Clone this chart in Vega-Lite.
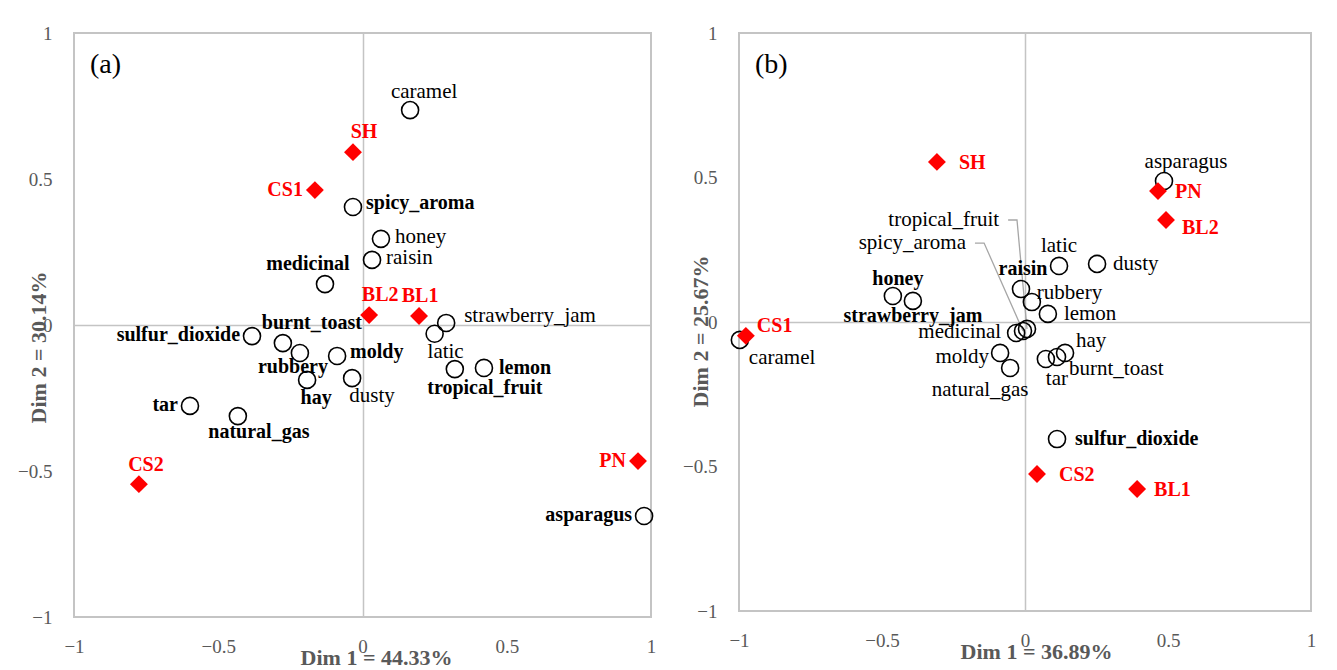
{
  "$schema": "https://vega.github.io/schema/vega-lite/v6.json",
  "background": "white",
  "padding": {"left": 16, "top": 23, "right": 0, "bottom": 0},
  "spacing": 24,
  "datasets": {
    "a": [
      {"name": "caramel", "kind": "attribute", "x": 0.165, "y": 0.736},
      {"name": "spicy_aroma", "kind": "attribute", "x": -0.033, "y": 0.404},
      {"name": "honey", "kind": "attribute", "x": 0.064, "y": 0.295},
      {"name": "raisin", "kind": "attribute", "x": 0.033, "y": 0.223},
      {"name": "medicinal", "kind": "attribute", "x": -0.13, "y": 0.14},
      {"name": "strawberry_jam", "kind": "attribute", "x": 0.29, "y": 0.007},
      {"name": "latic", "kind": "attribute", "x": 0.25, "y": -0.03},
      {"name": "sulfur_dioxide", "kind": "attribute", "x": -0.383, "y": -0.038},
      {"name": "burnt_toast", "kind": "attribute", "x": -0.276, "y": -0.062},
      {"name": "rubbery", "kind": "attribute", "x": -0.217, "y": -0.096},
      {"name": "moldy", "kind": "attribute", "x": -0.088, "y": -0.106},
      {"name": "hay", "kind": "attribute", "x": -0.192, "y": -0.188},
      {"name": "dusty", "kind": "attribute", "x": -0.036, "y": -0.182},
      {"name": "tropical_fruit", "kind": "attribute", "x": 0.32, "y": -0.151},
      {"name": "lemon", "kind": "attribute", "x": 0.421, "y": -0.147},
      {"name": "tar", "kind": "attribute", "x": -0.598, "y": -0.277},
      {"name": "natural_gas", "kind": "attribute", "x": -0.432, "y": -0.312},
      {"name": "asparagus", "kind": "attribute", "x": 0.976, "y": -0.654},
      {"name": "SH", "kind": "product", "x": -0.033, "y": 0.592},
      {"name": "CS1", "kind": "product", "x": -0.165, "y": 0.462},
      {"name": "BL2", "kind": "product", "x": 0.023, "y": 0.034},
      {"name": "BL1", "kind": "product", "x": 0.196, "y": 0.031},
      {"name": "CS2", "kind": "product", "x": -0.775, "y": -0.545},
      {"name": "PN", "kind": "product", "x": 0.955, "y": -0.466}
    ],
    "b": [
      {"name": "asparagus", "kind": "attribute", "x": 0.486, "y": 0.488},
      {"name": "latic", "kind": "attribute", "x": 0.119, "y": 0.194},
      {"name": "dusty", "kind": "attribute", "x": 0.252, "y": 0.201},
      {"name": "raisin", "kind": "attribute", "x": -0.014, "y": 0.114},
      {"name": "rubbery", "kind": "attribute", "x": 0.024, "y": 0.069},
      {"name": "lemon", "kind": "attribute", "x": 0.08, "y": 0.028},
      {"name": "honey", "kind": "attribute", "x": -0.462, "y": 0.09},
      {"name": "strawberry_jam", "kind": "attribute", "x": -0.392, "y": 0.073},
      {"name": "medicinal", "kind": "attribute", "x": -0.031, "y": -0.038},
      {"name": "spicy_aroma", "kind": "attribute", "x": -0.007, "y": -0.031},
      {"name": "tropical_fruit", "kind": "attribute", "x": 0.007, "y": -0.024},
      {"name": "caramel", "kind": "attribute", "x": -0.997, "y": -0.062},
      {"name": "moldy", "kind": "attribute", "x": -0.087, "y": -0.107},
      {"name": "natural_gas", "kind": "attribute", "x": -0.052, "y": -0.159},
      {"name": "tar", "kind": "attribute", "x": 0.073, "y": -0.128},
      {"name": "burnt_toast", "kind": "attribute", "x": 0.112, "y": -0.121},
      {"name": "hay", "kind": "attribute", "x": 0.14, "y": -0.107},
      {"name": "sulfur_dioxide", "kind": "attribute", "x": 0.112, "y": -0.405},
      {"name": "SH", "kind": "product", "x": -0.308, "y": 0.554},
      {"name": "PN", "kind": "product", "x": 0.465, "y": 0.453},
      {"name": "BL2", "kind": "product", "x": 0.493, "y": 0.353},
      {"name": "CS1", "kind": "product", "x": -0.976, "y": -0.048},
      {"name": "CS2", "kind": "product", "x": 0.042, "y": -0.526},
      {"name": "BL1", "kind": "product", "x": 0.392, "y": -0.578}
    ],
    "leaders": [
      {"label": "tropical_fruit", "ord": 1, "x": -0.059, "y": 0.353},
      {"label": "tropical_fruit", "ord": 2, "x": -0.028, "y": 0.353},
      {"label": "tropical_fruit", "ord": 3, "x": 0.007, "y": -0.024},
      {"label": "spicy_aroma", "ord": 1, "x": -0.175, "y": 0.273},
      {"label": "spicy_aroma", "ord": 2, "x": -0.143, "y": 0.273},
      {"label": "spicy_aroma", "ord": 3, "x": -0.007, "y": -0.031}
    ]
  },
  "hconcat": [
    {
      "width": 577,
      "height": 584,
      "title": {"text": "(a)", "anchor": "start", "frame": "group", "dx": 16, "offset": -55, "fontSize": 28, "font": "Liberation Serif", "fontWeight": "normal", "color": "#000000"},
      "data": {"name": "a"},
      "encoding": {
        "x": {"field": "x", "type": "quantitative", "scale": {"domain": [-1, 1], "nice": false, "zero": false},
              "axis": {"title": "Dim 1 = 44.33%", "values": [-1, -0.5, 0, 0.5, 1], "format": "~g", "titleX": 302, "titleY": 40}},
        "y": {"field": "y", "type": "quantitative", "scale": {"domain": [-1, 1], "nice": false, "zero": false},
              "axis": {"title": "Dim 2 = 30.14%", "values": [-1, -0.5, 0, 0.5, 1], "format": "~g", "titleX": -36, "titleY": 314}}
      },
      "layer": [
        {"transform": [{"filter": "datum.kind == 'attribute'"}], "mark": {"type": "point", "shape": "circle", "filled": false, "stroke": "#000000", "strokeWidth": 1.6, "size": 290, "opacity": 1}},
        {"transform": [{"filter": "datum.kind == 'product'"}], "mark": {"type": "point", "shape": "diamond", "filled": true, "color": "#ff0000", "size": 320, "opacity": 1}},
        {"transform": [{"filter": {"field": "name", "oneOf": ["caramel"]}}], "mark": {"type": "text", "align": "center", "dx": 14, "dy": -18, "fontSize": 21}, "encoding": {"text": {"field": "name"}}},
        {"transform": [{"filter": {"field": "name", "oneOf": ["honey", "raisin"]}}], "mark": {"type": "text", "align": "left", "dx": 14, "dy": -2, "fontSize": 21}, "encoding": {"text": {"field": "name"}}},
        {"transform": [{"filter": {"field": "name", "oneOf": ["strawberry_jam"]}}], "mark": {"type": "text", "align": "left", "dx": 18, "dy": -7, "fontSize": 21}, "encoding": {"text": {"field": "name"}}},
        {"transform": [{"filter": {"field": "name", "oneOf": ["latic"]}}], "mark": {"type": "text", "align": "center", "dx": 11, "dy": 18, "fontSize": 21}, "encoding": {"text": {"field": "name"}}},
        {"transform": [{"filter": {"field": "name", "oneOf": ["dusty"]}}], "mark": {"type": "text", "align": "center", "dx": 20, "dy": 18, "fontSize": 21}, "encoding": {"text": {"field": "name"}}},
        {"transform": [{"filter": {"field": "name", "oneOf": ["spicy_aroma", "moldy"]}}], "mark": {"type": "text", "align": "left", "dx": 13, "dy": -4, "fontWeight": "bold"}, "encoding": {"text": {"field": "name"}}},
        {"transform": [{"filter": {"field": "name", "oneOf": ["lemon"]}}], "mark": {"type": "text", "align": "left", "dx": 15, "dy": 0, "fontWeight": "bold"}, "encoding": {"text": {"field": "name"}}},
        {"transform": [{"filter": {"field": "name", "oneOf": ["sulfur_dioxide", "tar", "asparagus"]}}], "mark": {"type": "text", "align": "right", "dx": -12, "dy": -1, "fontWeight": "bold"}, "encoding": {"text": {"field": "name"}}},
        {"transform": [{"filter": {"field": "name", "oneOf": ["medicinal"]}}], "mark": {"type": "text", "align": "center", "dx": -17, "dy": -20, "fontWeight": "bold"}, "encoding": {"text": {"field": "name"}}},
        {"transform": [{"filter": {"field": "name", "oneOf": ["burnt_toast"]}}], "mark": {"type": "text", "align": "center", "dx": 29, "dy": -20, "fontWeight": "bold"}, "encoding": {"text": {"field": "name"}}},
        {"transform": [{"filter": {"field": "name", "oneOf": ["rubbery"]}}], "mark": {"type": "text", "align": "center", "dx": -7, "dy": 14, "fontWeight": "bold"}, "encoding": {"text": {"field": "name"}}},
        {"transform": [{"filter": {"field": "name", "oneOf": ["hay"]}}], "mark": {"type": "text", "align": "center", "dx": 9, "dy": 18, "fontWeight": "bold"}, "encoding": {"text": {"field": "name"}}},
        {"transform": [{"filter": {"field": "name", "oneOf": ["tropical_fruit"]}}], "mark": {"type": "text", "align": "center", "dx": 30, "dy": 19, "fontWeight": "bold"}, "encoding": {"text": {"field": "name"}}},
        {"transform": [{"filter": {"field": "name", "oneOf": ["natural_gas"]}}], "mark": {"type": "text", "align": "center", "dx": 21, "dy": 16, "fontWeight": "bold"}, "encoding": {"text": {"field": "name"}}},
        {"transform": [{"filter": {"field": "name", "oneOf": ["SH", "BL2"]}}], "mark": {"type": "text", "align": "center", "dx": 11, "dy": -20, "fontWeight": "bold", "color": "#ff0000"}, "encoding": {"text": {"field": "name"}}},
        {"transform": [{"filter": {"field": "name", "oneOf": ["BL1"]}}], "mark": {"type": "text", "align": "center", "dx": 1, "dy": -20, "fontWeight": "bold", "color": "#ff0000"}, "encoding": {"text": {"field": "name"}}},
        {"transform": [{"filter": {"field": "name", "oneOf": ["CS2"]}}], "mark": {"type": "text", "align": "center", "dx": 7, "dy": -19, "fontWeight": "bold", "color": "#ff0000"}, "encoding": {"text": {"field": "name"}}},
        {"transform": [{"filter": {"field": "name", "oneOf": ["CS1", "PN"]}}], "mark": {"type": "text", "align": "right", "dx": -12, "dy": 0, "fontWeight": "bold", "color": "#ff0000"}, "encoding": {"text": {"field": "name"}}}
      ]
    },
    {
      "width": 572,
      "height": 578,
      "title": {"text": "(b)", "anchor": "start", "frame": "group", "dx": 16, "offset": -55, "fontSize": 28, "font": "Liberation Serif", "fontWeight": "normal", "color": "#000000"},
      "data": {"name": "b"},
      "encoding": {
        "x": {"field": "x", "type": "quantitative", "scale": {"domain": [-1, 1], "nice": false, "zero": false},
              "axis": {"title": "Dim 1 = 36.89%", "values": [-1, -0.5, 0, 0.5, 1], "format": "~g", "titleX": 297, "titleY": 40}},
        "y": {"field": "y", "type": "quantitative", "scale": {"domain": [-1, 1], "nice": false, "zero": false},
              "axis": {"title": "Dim 2 = 25.67%", "values": [-1, -0.5, 0, 0.5, 1], "format": "~g", "titleX": -39, "titleY": 298}}
      },
      "layer": [
        {"data": {"name": "leaders"}, "mark": {"type": "line", "color": "#a6a6a6", "strokeWidth": 1.3}, "encoding": {"detail": {"field": "label"}, "order": {"field": "ord", "type": "quantitative"}}},
        {"transform": [{"filter": "datum.kind == 'attribute'"}], "mark": {"type": "point", "shape": "circle", "filled": false, "stroke": "#000000", "strokeWidth": 1.6, "size": 290, "opacity": 1}},
        {"transform": [{"filter": "datum.kind == 'product'"}], "mark": {"type": "point", "shape": "diamond", "filled": true, "color": "#ff0000", "size": 320, "opacity": 1}},
        {"data": {"name": "leaders"}, "transform": [{"filter": "datum.ord == 1"}], "mark": {"type": "text", "align": "right", "dx": -9, "dy": 0, "fontSize": 21}, "encoding": {"text": {"field": "label"}}},
        {"transform": [{"filter": {"field": "name", "oneOf": ["SH", "CS2"]}}], "mark": {"type": "text", "align": "left", "dx": 22, "dy": 1, "fontWeight": "bold", "color": "#ff0000"}, "encoding": {"text": {"field": "name"}}},
        {"transform": [{"filter": {"field": "name", "oneOf": ["PN", "BL1"]}}], "mark": {"type": "text", "align": "left", "dx": 17, "dy": 1, "fontWeight": "bold", "color": "#ff0000"}, "encoding": {"text": {"field": "name"}}},
        {"transform": [{"filter": {"field": "name", "oneOf": ["BL2"]}}], "mark": {"type": "text", "align": "left", "dx": 16, "dy": 8, "fontWeight": "bold", "color": "#ff0000"}, "encoding": {"text": {"field": "name"}}},
        {"transform": [{"filter": {"field": "name", "oneOf": ["CS1"]}}], "mark": {"type": "text", "align": "left", "dx": 11, "dy": -10, "fontWeight": "bold", "color": "#ff0000"}, "encoding": {"text": {"field": "name"}}},
        {"transform": [{"filter": {"field": "name", "oneOf": ["asparagus"]}}], "mark": {"type": "text", "align": "center", "dx": 22, "dy": -19, "fontSize": 21}, "encoding": {"text": {"field": "name"}}},
        {"transform": [{"filter": {"field": "name", "oneOf": ["latic"]}}], "mark": {"type": "text", "align": "center", "dx": 0, "dy": -20, "fontSize": 21}, "encoding": {"text": {"field": "name"}}},
        {"transform": [{"filter": {"field": "name", "oneOf": ["raisin"]}}], "mark": {"type": "text", "align": "center", "dx": 2, "dy": -20, "fontWeight": "bold"}, "encoding": {"text": {"field": "name"}}},
        {"transform": [{"filter": {"field": "name", "oneOf": ["dusty", "lemon"]}}], "mark": {"type": "text", "align": "left", "dx": 16, "dy": 0, "fontSize": 21}, "encoding": {"text": {"field": "name"}}},
        {"transform": [{"filter": {"field": "name", "oneOf": ["rubbery"]}}], "mark": {"type": "text", "align": "left", "dx": 5, "dy": -9, "fontSize": 21}, "encoding": {"text": {"field": "name"}}},
        {"transform": [{"filter": {"field": "name", "oneOf": ["honey"]}}], "mark": {"type": "text", "align": "center", "dx": 5, "dy": -17, "fontWeight": "bold"}, "encoding": {"text": {"field": "name"}}},
        {"transform": [{"filter": {"field": "name", "oneOf": ["strawberry_jam"]}}], "mark": {"type": "text", "align": "center", "dx": 0, "dy": 15, "fontWeight": "bold"}, "encoding": {"text": {"field": "name"}}},
        {"transform": [{"filter": {"field": "name", "oneOf": ["medicinal"]}}], "mark": {"type": "text", "align": "right", "dx": -15, "dy": -1, "fontSize": 21}, "encoding": {"text": {"field": "name"}}},
        {"transform": [{"filter": {"field": "name", "oneOf": ["moldy"]}}], "mark": {"type": "text", "align": "right", "dx": -11, "dy": 4, "fontSize": 21}, "encoding": {"text": {"field": "name"}}},
        {"transform": [{"filter": {"field": "name", "oneOf": ["caramel"]}}], "mark": {"type": "text", "align": "left", "dx": 9, "dy": 18, "fontSize": 21}, "encoding": {"text": {"field": "name"}}},
        {"transform": [{"filter": {"field": "name", "oneOf": ["natural_gas"]}}], "mark": {"type": "text", "align": "center", "dx": -30, "dy": 22, "fontSize": 21}, "encoding": {"text": {"field": "name"}}},
        {"transform": [{"filter": {"field": "name", "oneOf": ["hay"]}}], "mark": {"type": "text", "align": "left", "dx": 11, "dy": -12, "fontSize": 21}, "encoding": {"text": {"field": "name"}}},
        {"transform": [{"filter": {"field": "name", "oneOf": ["burnt_toast"]}}], "mark": {"type": "text", "align": "left", "dx": 12, "dy": 12, "fontSize": 21}, "encoding": {"text": {"field": "name"}}},
        {"transform": [{"filter": {"field": "name", "oneOf": ["tar"]}}], "mark": {"type": "text", "align": "center", "dx": 11, "dy": 20, "fontSize": 21}, "encoding": {"text": {"field": "name"}}},
        {"transform": [{"filter": {"field": "name", "oneOf": ["sulfur_dioxide"]}}], "mark": {"type": "text", "align": "left", "dx": 18, "dy": 0, "fontWeight": "bold"}, "encoding": {"text": {"field": "name"}}}
      ]
    }
  ],
  "config": {
    "view": {"stroke": "#c4c4c4", "strokeWidth": 2},
    "text": {"font": "Liberation Serif", "fontSize": 20, "baseline": "middle", "color": "#000000"},
    "axis": {
      "ticks": false,
      "domain": false,
      "grid": true,
      "gridColor": "#c4c4c4",
      "gridWidth": 1.5,
      "gridOpacity": {"condition": {"test": "datum.value === 0", "value": 1}, "value": 0},
      "labelFont": "Liberation Serif",
      "labelFontSize": 19,
      "labelColor": "#595959",
      "labelPadding": 20,
      "labelFlush": false,
      "labelOverlap": false,
      "titleFont": "Liberation Serif",
      "titleFontSize": 22,
      "titleFontWeight": "bold",
      "titleColor": "#595959",
      "titleBaseline": "middle"
    },
    "axisY": {"labelPadding": 22}
  }
}
